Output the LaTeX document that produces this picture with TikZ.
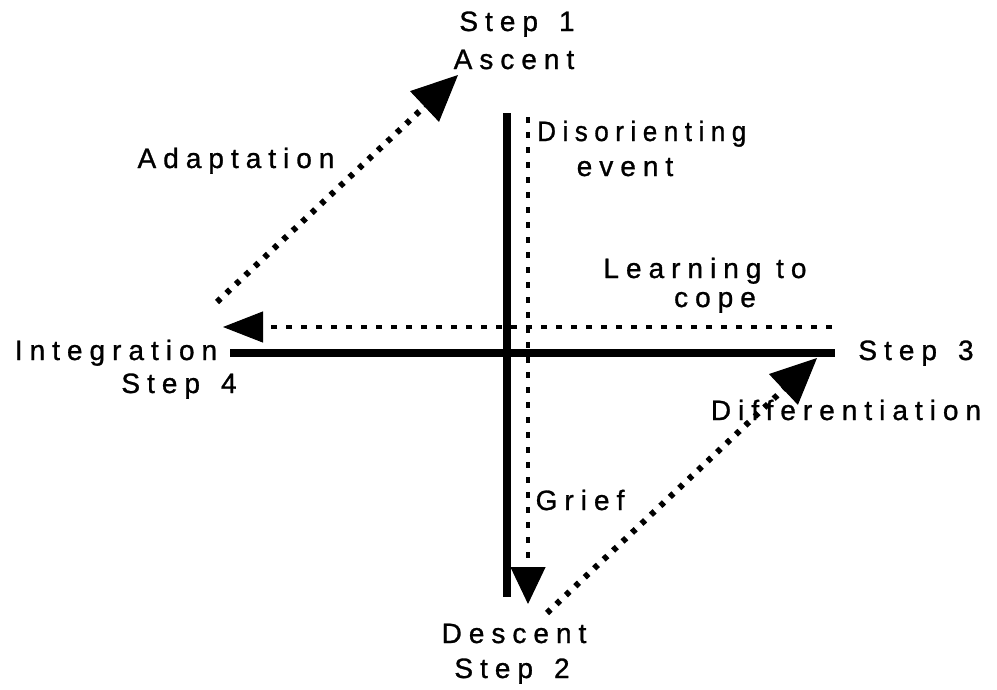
\documentclass[tikz,border=0pt]{standalone}
\usepackage{fontspec}
\setmainfont{Liberation Sans}[LetterSpace=25,FakeBold=1]
\usetikzlibrary{arrows.meta}
\newcommand{\wsp}{\hspace{0.5em}}
\tikzset{
  lbl/.style={font=\fontsize{28}{31}\selectfont, inner sep=0pt, anchor=base},
  thick line/.style={line width=8.5pt},
  dotdiag/.style={line width=6pt, dash pattern=on 5pt off 8pt},
  dotstraight/.style={line width=4pt, dash pattern=on 6pt off 9pt},
  bighead/.style={line width=1pt, -{Triangle[length=46pt,width=42pt]}},
  vhead/.style={line width=1pt, -{Triangle[length=37pt,width=35pt]}},
  hhead/.style={line width=1pt, -{Triangle[length=40pt,width=31pt]}},
}
\begin{document}
\begin{tikzpicture}[x=1pt,y=-1pt]
\useasboundingbox (0,0) rectangle (997,689);
% thick axes
\coordinate (vtop) at (507,113);
\coordinate (vbot) at (507,597);
\coordinate (hleft) at (230,353);
\coordinate (hright) at (835,353);
\draw[thick line] (vtop) -- (vbot);
\draw[thick line] (hleft) -- (hright);
% dotted straight arrows
\coordinate (gstart) at (528,117);
\coordinate (gmid) at (528,570);
\coordinate (gend) at (528,604);
\draw[dotstraight] (gstart) -- (gmid);
\draw[vhead] (gmid) -- (gend);
\coordinate (lstart) at (832,327);
\coordinate (lmid) at (260,327);
\coordinate (lend) at (223,327);
\draw[dotstraight] (lstart) -- (lmid);
\draw[hhead] (lmid) -- (lend);
% diagonal arrows
\coordinate (astart) at (217,302);
\coordinate (amid) at (424,107);
\coordinate (aend) at (458,75);
\draw[dotdiag] (astart) -- (amid);
\draw[bighead] (amid) -- (aend);
\coordinate (dstart) at (547,613);
\coordinate (dmid) at (785,388);
\coordinate (dend) at (817,358);
\draw[dotdiag] (dstart) -- (dmid);
\draw[bighead] (dmid) -- (dend);
% labels
\node[lbl] (s1) at (517,31) {Step\hspace{0.75em}1};
\node[lbl] (asc) at (514,69) {Ascent};
\node[lbl, anchor=base west] (dis) at (537,141) {\scalebox{0.93}[1]{Disorienting}};
\node[lbl] (ev) at (625,176) {event};
\node[lbl] (ad) at (236,168) {Adaptation};
\node[lbl] (lt) at (705,278) {Learning to};
\node[lbl] (cp) at (715,307) {cope};
\node[lbl] (int) at (116,360) {Integration};
\node[lbl] (s4) at (179,393) {Step\hspace{0.75em}4};
\node[lbl] (s3) at (916,360) {Step\hspace{0.75em}3};
\node[lbl] (dif) at (846,420) {Differentiation};
\node[lbl] (gr) at (580,510) {Grief};
\node[lbl] (des) at (514,643) {Descent};
\node[lbl] (s2) at (512,678) {Step\hspace{0.75em}2};
\end{tikzpicture}
\end{document}
